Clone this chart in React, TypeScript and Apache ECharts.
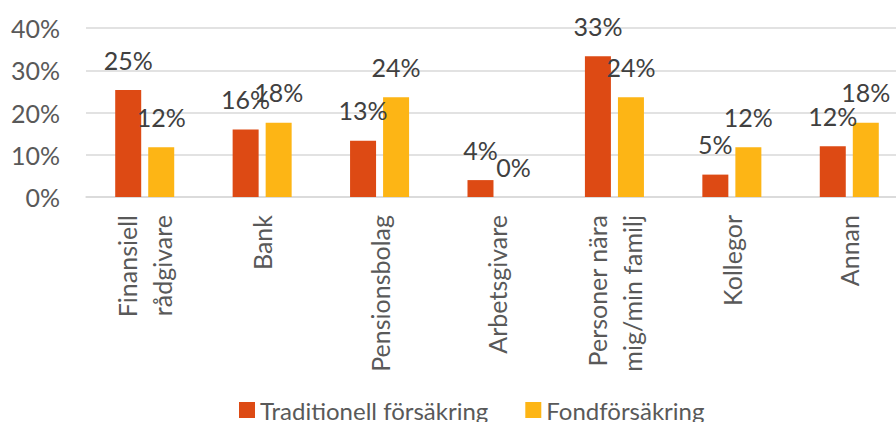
import React, { useEffect, useRef } from "react";
import * as echarts from "echarts";

const categories = [
  "Finansiell\nrådgivare",
  "Bank",
  "Pensionsbolag",
  "Arbetsgivare",
  "Personer nära\nmig/min familj",
  "Kollegor",
  "Annan",
];
const traditionell = [25.3, 16.0, 13.3, 4.0, 33.3, 5.3, 12.0];
const fond = [11.8, 17.6, 23.6, 0, 23.6, 11.8, 17.6];
const seriesNames = ["Traditionell försäkring", "Fondförsäkring"];
const yTicks = { min: 0, max: 40, interval: 10 };

const FONT = "Lato";

export default function App() {
  const ref = useRef<HTMLDivElement>(null);
  useEffect(() => {
    if (!ref.current) return;
    const chart = echarts.init(ref.current, undefined, { renderer: "svg" });
    const label = {
      show: true,
      position: "top",
      distance: 18,
      fontFamily: FONT,
      fontSize: 25,
      color: "#404040",
      formatter: (p: any) => Math.round(p.value) + "%",
    };
    chart.setOption({
      animation: false,
      backgroundColor: "#ffffff",
      textStyle: { fontFamily: FONT },
      grid: {
        left: 86,
        top: 28,
        width: 822,
        height: 169,
        containLabel: false,
        outerBoundsMode: "none",
      },
      legend: {
        left: 234,
        top: 393,
        itemWidth: 16,
        itemHeight: 16,
        itemGap: 37,
        icon: "rect",
        textStyle: { fontFamily: FONT, fontSize: 24, color: "#595959" },
        data: seriesNames,
      },
      xAxis: {
        type: "category",
        data: categories,
        axisLine: { show: true, lineStyle: { color: "#d9d9d9", width: 1.5 } },
        axisTick: { show: false },
        axisLabel: {
          interval: 0,
          rotate: 90,
          margin: 18,
          fontFamily: FONT,
          fontSize: 25,
          lineHeight: 35,
          color: "#595959",
        },
      },
      yAxis: {
        type: "value",
        min: yTicks.min,
        max: yTicks.max,
        interval: yTicks.interval,
        axisLine: { show: false },
        axisTick: { show: false },
        splitLine: { lineStyle: { color: "#d9d9d9", width: 1.5 } },
        axisLabel: {
          formatter: "{value}%",
          margin: 26,
          fontFamily: FONT,
          fontSize: 25,
          color: "#595959",
        },
      },
      series: [
        {
          name: seriesNames[0],
          type: "bar",
          data: traditionell,
          barWidth: 26,
          barGap: "27%",
          itemStyle: { color: "#DD4A14" },
          label,
        },
        {
          name: seriesNames[1],
          type: "bar",
          data: fond,
          barWidth: 26,
          itemStyle: { color: "#FDB515" },
          label,
        },
      ],
    });
    return () => chart.dispose();
  }, []);
  return (
    <div
      ref={ref}
      style={{ position: "fixed", left: 0, top: 0, width: 896, height: 422 }}
    />
  );
}
